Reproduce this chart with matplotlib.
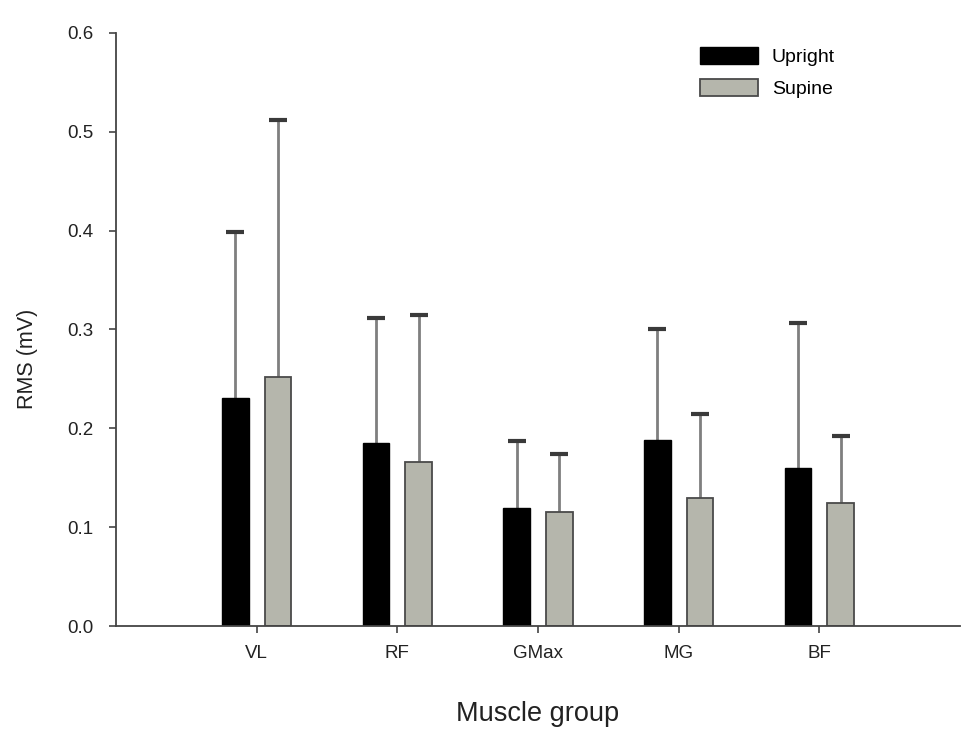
import numpy as np
import matplotlib.pyplot as plt

plt.rcParams['font.family'] = ['Liberation Sans', 'DejaVu Sans']

muscles = ['VL', 'RF', 'GMax', 'MG', 'BF']
upright = [0.231, 0.185, 0.119, 0.188, 0.160]
upright_top = [0.399, 0.312, 0.187, 0.301, 0.307]
supine = [0.252, 0.166, 0.115, 0.130, 0.124]
supine_top = [0.512, 0.315, 0.174, 0.215, 0.192]

fig = plt.figure(figsize=(9.72, 7.31), dpi=100)
ax = fig.add_axes([0.1193, 0.1436, 0.8684, 0.8113])

x = np.arange(len(muscles))
w = 0.19
off = 0.152

ax.bar(x - off, upright, w, color='black', edgecolor='black', label='Upright', zorder=2)
ax.bar(x + off, supine, w, color='#b5b6ac', edgecolor='#4a4a4a', linewidth=1.3,
       label='Supine', zorder=2)

# one-sided (upper) error bars: thin grey stem, dark thick cap
for pos, vals, tops in [(x - off, upright, upright_top), (x + off, supine, supine_top)]:
    ax.vlines(pos, vals, tops, color='#7f7f7f', linewidth=2, zorder=1)
    ax.plot(pos, tops, linestyle='none', marker='_', markersize=13,
            markeredgewidth=3, color='#3a3a3a', zorder=1)

ax.set_xlim(-1.0, 5.0)
ax.set_ylim(0, 0.6)
ax.set_yticks(np.arange(0, 0.61, 0.1))
ax.set_yticklabels(['%.1f' % v for v in np.arange(0, 0.61, 0.1)])
ax.set_xticks(x)
ax.set_xticklabels(muscles)

ax.spines['top'].set_visible(False)
ax.spines['right'].set_visible(False)
for s in ['left', 'bottom']:
    ax.spines[s].set_color('#444444')
    ax.spines[s].set_linewidth(1.3)
ax.tick_params(axis='y', direction='out', length=5, width=1.2, color='#444444',
               labelsize=13.5, pad=11, labelcolor='#222222')
ax.tick_params(axis='x', direction='out', length=5, width=1.2, color='#444444',
               labelsize=13.5, pad=9, labelcolor='#222222')

ax.set_ylabel('RMS (mV)', fontsize=15.5, color='#222222')
ax.yaxis.set_label_coords(-0.092, 0.45)
ax.set_xlabel('Muscle group', fontsize=19.5, labelpad=28, color='#222222')

ax.legend(loc='upper left', bbox_to_anchor=(700 / 972, 1 - 47 / 731),
          bbox_transform=fig.transFigure, frameon=False, fontsize=14,
          handlelength=3.0, handleheight=1.0, labelspacing=0.65,
          handletextpad=0.7, borderpad=0, borderaxespad=0)

fig.savefig('out.png', dpi=100)
